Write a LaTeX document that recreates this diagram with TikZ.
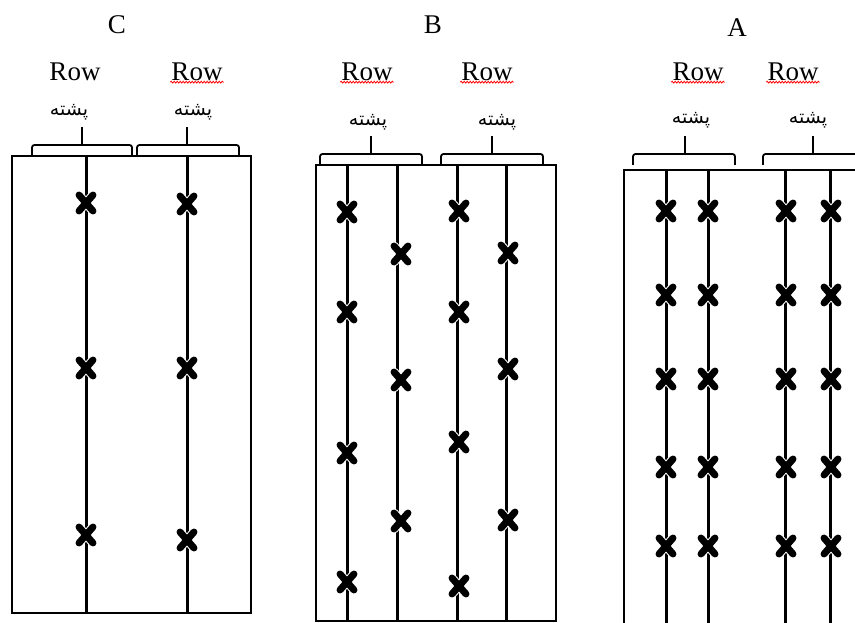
\documentclass[tikz,border=0pt]{standalone}
\usepackage{fontspec}
\setmainfont{Liberation Serif}
\newfontfamily\arabicfont[Script=Arabic]{DejaVu Sans}
\TeXXeTstate=1
\usetikzlibrary{shapes.misc,decorations.pathmorphing}

\tikzset{
  plotedge/.style={line width=1.8pt},
  ridge/.style={line width=3pt},
  brace/.style={line width=1.8pt,rounded corners=2.5pt},
  plant/.style={cross out,draw=white,double=black,line width=1pt,
    double distance=7pt,line cap=round,minimum width=13pt,
    minimum height=15pt,inner sep=0pt},
  title/.style={font=\fontsize{27}{31}\selectfont,inner sep=1pt},
  bed/.style={font=\arabicfont\fontsize{19}{22}\selectfont,inner sep=1pt},
  spell/.style={red,line width=0.8pt,decorate,
    decoration={snake,amplitude=0.9pt,segment length=3pt}}
}

% brace over a pair of rows: left, right, stem, top of plot
\newcommand\bedbrace[4]{%
  \draw[brace] (#1,#4) -- ++(0,-11) -| (#2,#4);
  \draw[brace] (#3,#4-11) -- ++(0,-18);}

\begin{document}
\begin{tikzpicture}[x=1pt,y=-1pt]

\useasboundingbox (0,0) rectangle (855,623);
\clip (0,0) rectangle (855,623);

% ---- C : one row per bed
\node[title] (titC) at (117,25) {C};
\node[title] (rowC1) at (75,72) {Row};
\node[title] (rowC2) at (197,72) {Row};
\draw[spell] (rowC2.south west) -- (rowC2.south east);
\node[bed] (bedC1) at (69,112) {\beginR پشته\endR};
\node[bed] (bedC2) at (193,112) {\beginR پشته\endR};
\bedbrace{32}{132}{82}{156}
\bedbrace{137}{239}{187}{156}

\draw[plotedge] (12,156) rectangle (251,613);
\draw[ridge] (86,156) -- (86,613);
\draw[ridge] (187,156) -- (187,613);

\foreach \y [count=\i] in {203,368,535}
  \node[plant] (pC1-\i) at (86,\y) {};
\foreach \y [count=\i] in {204,368,540}
  \node[plant] (pC2-\i) at (187,\y) {};

% ---- B : two staggered rows per bed
\node[title] (titB) at (433,25) {B};
\node[title] (rowB1) at (367,72) {Row};
\node[title] (rowB2) at (487,72) {Row};
\draw[spell] (rowB1.south west) -- (rowB1.south east);
\draw[spell] (rowB2.south west) -- (rowB2.south east);
\node[bed] (bedB1) at (368,122) {\beginR پشته\endR};
\node[bed] (bedB2) at (497,122) {\beginR پشته\endR};
\bedbrace{320}{422}{371}{165}
\bedbrace{441}{543}{492}{165}

\draw[plotedge] (316,165) rectangle (556,621);
\foreach \x in {347,397,457,506}
  \draw[ridge] (\x,165) -- (\x,621);

\foreach \y [count=\i] in {212,312,453,582}
  \node[plant] (pB1-\i) at (347,\y) {};
\foreach \y [count=\i] in {254,380,521}
  \node[plant] (pB2-\i) at (401,\y) {};
\foreach \y [count=\i] in {211,312,442,586}
  \node[plant] (pB3-\i) at (459,\y) {};
\foreach \y [count=\i] in {253,369,520}
  \node[plant] (pB4-\i) at (508,\y) {};

% ---- A : two paired rows per bed
\node[title] (titA) at (737,28) {A};
\node[title] (rowA1) at (698,72) {Row};
\node[title] (rowA2) at (793,72) {Row};
\draw[spell] (rowA1.south west) -- (rowA1.south east);
\draw[spell] (rowA2.south west) -- (rowA2.south east);
\node[bed] (bedA1) at (691,120) {\beginR پشته\endR};
\node[bed] (bedA2) at (808,120) {\beginR پشته\endR};
\bedbrace{633}{735}{685}{165}
\bedbrace{763}{880}{813}{165}

\draw[plotedge] (624,640) -- (624,170) -- (870,170);
\foreach \x in {666,708,785,830}
  \draw[ridge] (\x,170) -- (\x,640);

\foreach \x [count=\j] in {666,708,786,831}
  \foreach \y [count=\i] in {211,295,379,467,546}
    \node[plant] (pA\j-\i) at (\x,\y) {};

\end{tikzpicture}
\end{document}
